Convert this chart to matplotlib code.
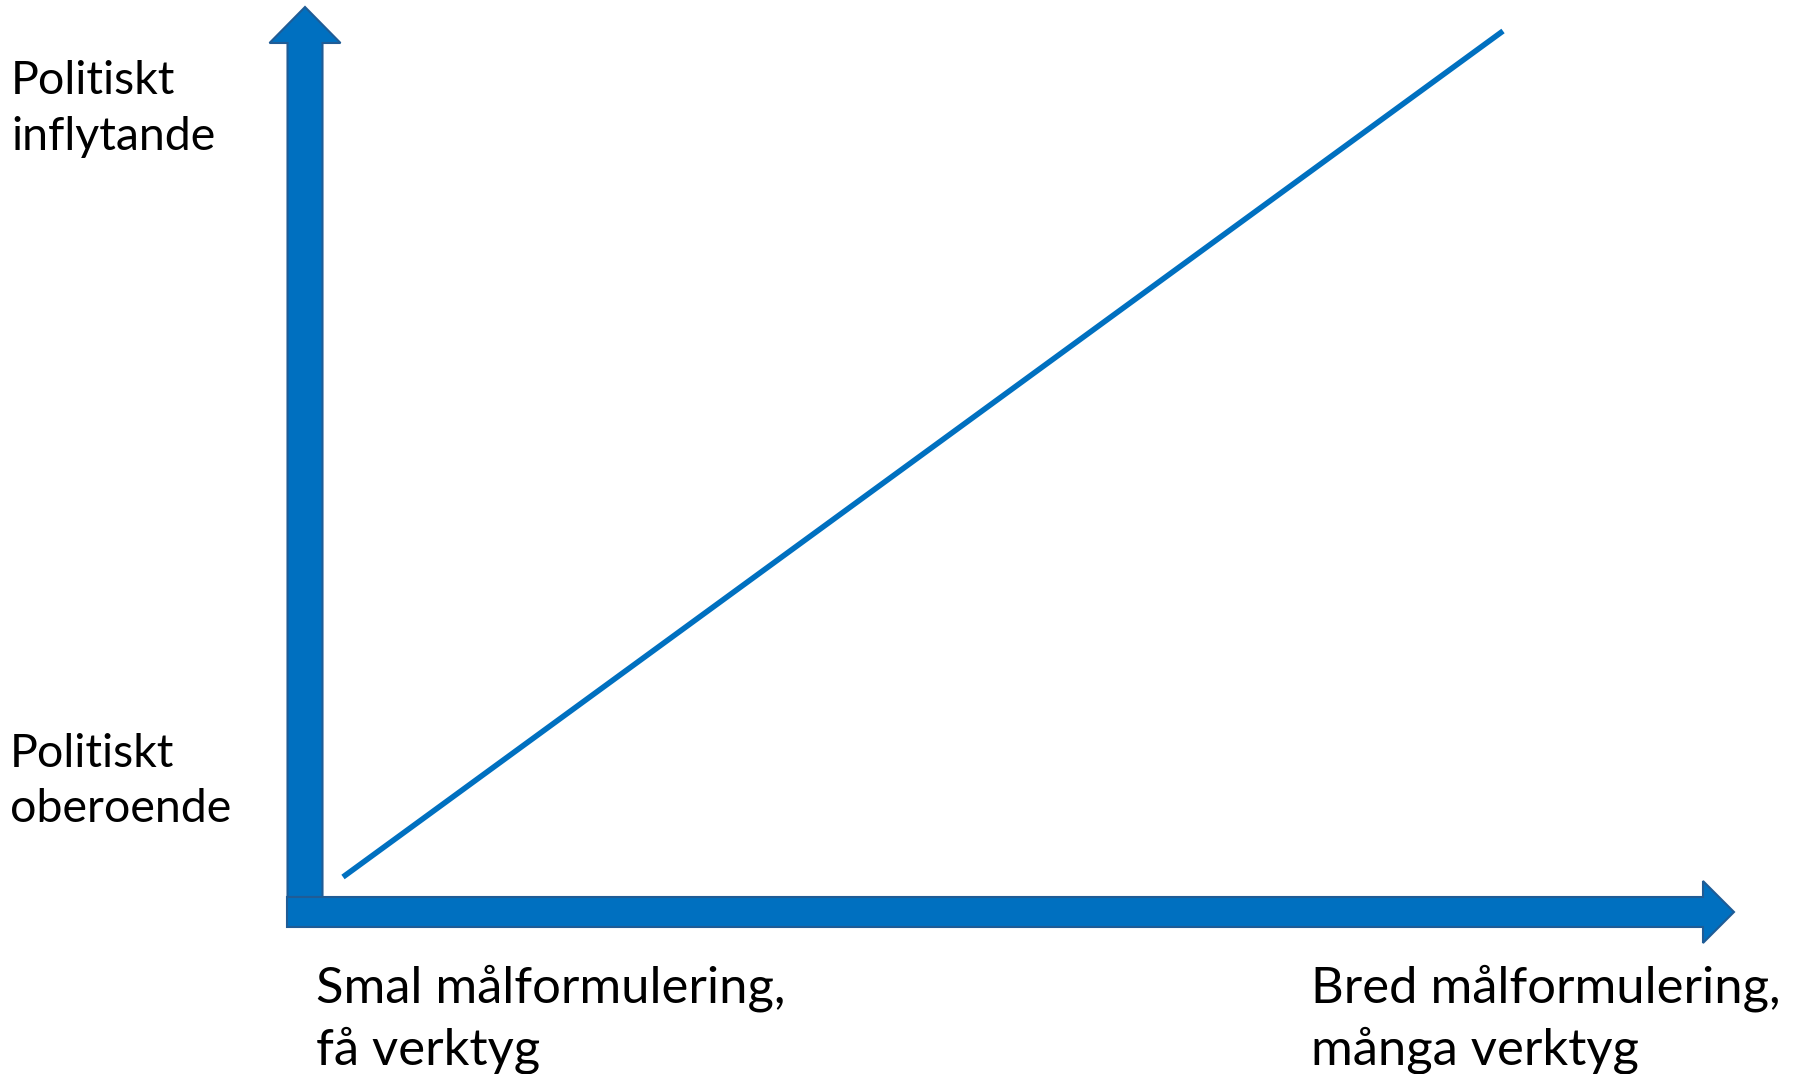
import matplotlib
matplotlib.use("Agg")
import matplotlib.pyplot as plt
from matplotlib.patches import FancyArrow

# Diagram content (pixel space of the 1798x1074 canvas)
line_x = [343, 1503]
line_y = [877, 31]
y_label_top = ["Politiskt", "inflytande"]
y_label_bottom = ["Politiskt", "oberoende"]
x_label_left = ["Smal målformulering,", "få verktyg"]
x_label_right = ["Bred målformulering,", "många verktyg"]

W, H = 1798, 1074
fig = plt.figure(figsize=(W / 100, H / 100), dpi=100)
ax = fig.add_axes([0, 0, 1, 1])
ax.set_xlim(0, W)
ax.set_ylim(H, 0)
ax.axis("off")

fill = "#0070C0"
edge = "#1F5C96"

# vertical axis arrow
va = FancyArrow(305, 897, 0, -890, width=35, head_width=71, head_length=36,
                length_includes_head=True, facecolor=fill, edgecolor=edge, linewidth=1.5, zorder=2)
ax.add_patch(va)
# horizontal axis arrow
ha = FancyArrow(287, 912, 1447, 0, width=30, head_width=62, head_length=31,
                length_includes_head=True, facecolor=fill, edgecolor=edge, linewidth=1.5, zorder=3)
ax.add_patch(ha)

ax.plot(line_x, line_y, color="#0070C0", lw=4.0, solid_capstyle="butt", zorder=4)


def two_lines(x, y0, y1, lines, size):
    font = dict(family=["Lato", "DejaVu Sans"], fontsize=size, color="black",
                va="baseline", ha="left")
    ax.text(x, y0, lines[0], **font)
    ax.text(x, y1, lines[1], **font)


two_lines(11, 94, 150, y_label_top, 33.5)
two_lines(10, 767, 822, y_label_bottom, 33.5)
two_lines(316, 1002, 1064, x_label_left, 36.5)
two_lines(1311, 1002, 1064, x_label_right, 36.5)

fig.savefig("out.png", dpi=100)
